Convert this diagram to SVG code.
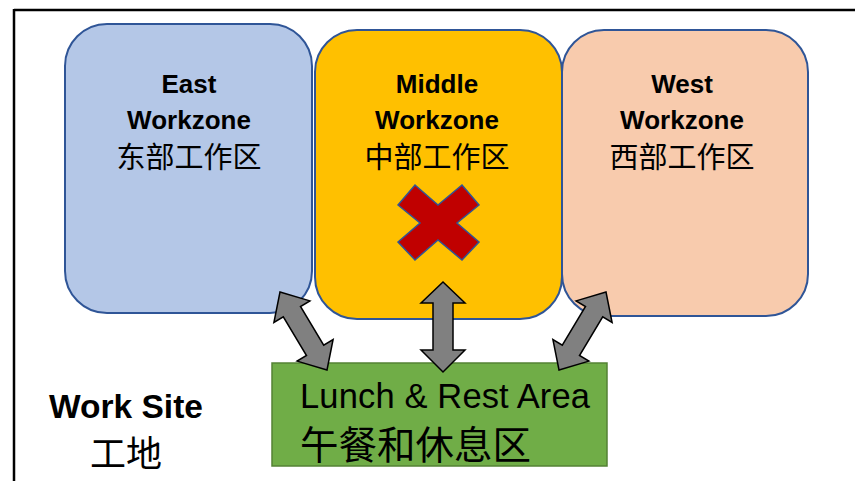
<svg xmlns="http://www.w3.org/2000/svg" width="855" height="481" viewBox="0 0 855 481">
<style>
.zone{stroke:#2F5597;stroke-width:2}
.lbl{font-family:"Liberation Sans","Noto Sans CJK SC",sans-serif;font-weight:bold;font-size:26px;fill:#000;text-anchor:middle}
.cjk{font-family:"Noto Sans CJK SC",sans-serif;font-size:29px;fill:#000;text-anchor:middle}
.arrow{fill:#808080;stroke:#000;stroke-width:1.5;stroke-linejoin:miter}
</style>
<rect width="855" height="481" fill="#fff"/>
<g id="frame">
<line x1="14" y1="10" x2="855" y2="10" stroke="#000" stroke-width="2.5"/>
<line x1="14" y1="9" x2="14" y2="481" stroke="#000" stroke-width="2.5"/>
</g>
<g id="east">
<rect class="zone" x="65" y="24" width="247" height="289" rx="42" fill="#B4C7E7"/>
<text class="lbl" x="189" y="93">East</text>
<text class="lbl" x="189" y="129">Workzone</text>
<text class="cjk" x="189" y="168">东部工作区</text>
</g>
<g id="middle">
<rect class="zone" x="315" y="30" width="247" height="289" rx="42" fill="#FFC000"/>
<text class="lbl" x="437" y="93">Middle</text>
<text class="lbl" x="437" y="129">Workzone</text>
<text class="cjk" x="437" y="168">中部工作区</text>
<polygon points="398,205 415,185 438,205 462,185 479,205 457,223 479,242 462,260 438,240 415,260 398,242 420,223" fill="#C00000" stroke="#2F5597" stroke-width="1.5"/>
</g>
<g id="west">
<rect class="zone" x="562" y="30" width="246" height="286" rx="42" fill="#F8CBAD"/>
<text class="lbl" x="682" y="93">West</text>
<text class="lbl" x="682" y="129">Workzone</text>
<text class="cjk" x="682" y="168">西部工作区</text>
</g>
<g id="lunch">
<rect x="272" y="363" width="335" height="103" fill="#70AD47" stroke="#548235" stroke-width="1.5"/>
<text x="300" y="408" font-family="Liberation Sans,sans-serif" font-size="34.5" textLength="290" fill="#000">Lunch &amp; Rest Area</text>
<text x="300" y="459" font-family="Noto Sans CJK SC,sans-serif" font-size="38.5" fill="#000">午餐和休息区</text>
</g>
<g id="worksite">
<text x="126" y="418" font-family="Liberation Sans,sans-serif" font-weight="bold" font-size="33.5" fill="#000" text-anchor="middle">Work Site</text>
<text x="126" y="467" font-family="Noto Sans CJK SC,sans-serif" font-size="36" fill="#000" text-anchor="middle">工地</text>
</g>
<g id="connectors">
<polygon class="arrow" points="280,292 309.9,300.9 300.5,306.5 323.7,345.1 333.1,339.5 327,370 297.1,361.1 306.5,355.5 283.3,316.9 273.9,322.5"/>
<polygon class="arrow" points="443,282 465,303 453,303 453,350 465,350 443,372 421,350 433,350 433,303 421,303"/>
<polygon class="arrow" points="606,292 576.1,300.9 585.5,306.5 562.3,345.1 552.9,339.5 559,370 588.9,361.1 579.5,355.5 602.7,316.9 612.1,322.5"/>
</g>
</svg>
